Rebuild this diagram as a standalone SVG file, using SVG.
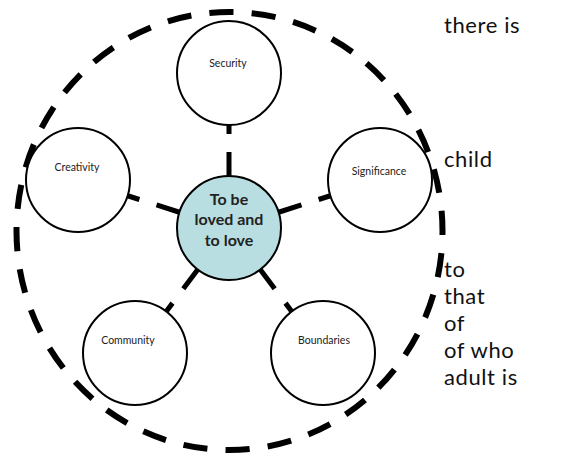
<svg xmlns="http://www.w3.org/2000/svg" width="570" height="458" viewBox="0 0 570 458">
<style>
.node{fill:#fff;stroke:#000;stroke-width:2}
.core{fill:#b8dee2;stroke:#000;stroke-width:2}
.lbl{font-family:Lato,"Open Sans",sans-serif;font-size:10.5px;fill:#222;text-anchor:middle}
.core-t{font-family:Lato,"Open Sans",sans-serif;font-size:16px;font-weight:bold;fill:#222;text-anchor:middle}
.conn{stroke:#000;stroke-width:5;stroke-dasharray:24 18;fill:none}
.side{font-family:Lato,"Open Sans",sans-serif;font-size:22px;letter-spacing:0.6px;fill:#111}
</style>
<rect width="570" height="458" fill="#fff"/>
<path id="boundary" d="M229.5,12 A213,219 0 1 1 229.5,450 A213,219 0 1 1 229.5,12" fill="none" stroke="#000" stroke-width="6" pathLength="1344" stroke-dasharray="24 18" stroke-dashoffset="20"/>
<g id="connectors">
<line class="conn" x1="229" y1="176" x2="229" y2="125"/>
<line class="conn" x1="179.4" y1="212.25" x2="127.6" y2="195.75"/>
<line class="conn" x1="278.6" y1="212.25" x2="330.4" y2="195.75"/>
<line class="conn" x1="197.75" y1="269.56" x2="166.25" y2="311.44"/>
<line class="conn" x1="260.25" y1="269.56" x2="291.75" y2="311.44"/>
</g>
<g id="core"><circle class="core" cx="229" cy="228" r="52"/>
<text class="core-t" x="229" y="205">To be</text>
<text class="core-t" x="229" y="225">loved and</text>
<text class="core-t" x="229" y="246">to love</text></g>
<g id="security"><circle class="node" cx="229" cy="73" r="52"/><text class="lbl" x="228" y="67">Security</text></g>
<g id="creativity"><circle class="node" cx="78" cy="180" r="52"/><text class="lbl" x="77" y="171">Creativity</text></g>
<g id="significance"><circle class="node" cx="380" cy="180" r="52"/><text class="lbl" x="379" y="175">Significance</text></g>
<g id="community"><circle class="node" cx="135" cy="353" r="52"/><text class="lbl" x="128" y="344">Community</text></g>
<g id="boundaries"><circle class="node" cx="323" cy="353" r="52"/><text class="lbl" x="324" y="344">Boundaries</text></g>
<g id="side-text">
<text class="side" x="444" y="33">there is</text>
<text class="side" x="444" y="167">child</text>
<text class="side" x="444" y="277">to</text>
<text class="side" x="444" y="304">that</text>
<text class="side" x="444" y="331">of</text>
<text class="side" x="444" y="358">of who</text>
<text class="side" x="444" y="385">adult is</text>
</g>
</svg>
